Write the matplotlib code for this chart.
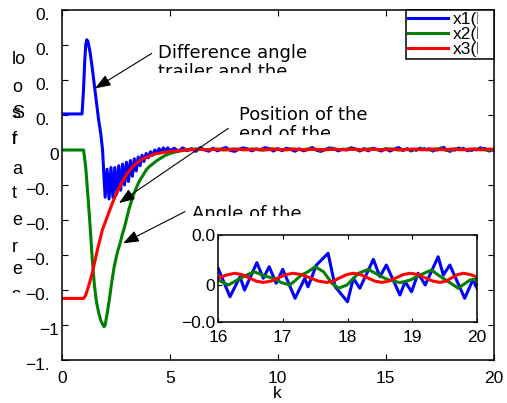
import matplotlib
matplotlib.use("Agg")
import matplotlib.pyplot as plt
from matplotlib.transforms import Bbox, ScaledTranslation

W, H = 507, 403
plt.rcParams['font.family'] = ['Liberation Sans', 'DejaVu Sans']

# ---------------- data ----------------
# transient part, k in [0, 5]
blue_k_a = [0, 0.93, 1.0, 1.05, 1.1, 1.15, 1.2, 1.3, 1.4, 1.5, 1.6, 1.7, 1.8, 1.88, 1.93, 2.0,
            2.09, 2.18, 2.27, 2.36, 2.45, 2.54, 2.63, 2.72, 2.81, 2.90, 2.99, 3.08, 3.17, 3.26,
            3.35, 3.44, 3.53, 3.62, 3.71, 3.80, 3.90, 4.00, 4.10, 4.20, 4.30, 4.40, 4.50, 4.60,
            4.70, 4.80, 4.90, 5.00]
blue_a = [0.206, 0.206, 0.35, 0.50, 0.60, 0.63, 0.62, 0.56, 0.47, 0.37, 0.27, 0.17, 0.09, 0.0, -0.12, -0.27,
          -0.11, -0.28, -0.10, -0.27, -0.10, -0.25, -0.09, -0.23, -0.08, -0.20, -0.07, -0.18, -0.06, -0.15,
          -0.05, -0.12, -0.04, -0.09, -0.03, -0.065, -0.02, -0.045, -0.01, -0.03, 0.0, -0.02, 0.008, -0.012,
          0.012, -0.008, 0.012, -0.004]

green_k_a = [0, 1.0, 1.1, 1.2, 1.3, 1.4, 1.5, 1.6, 1.7, 1.8, 1.9, 1.95, 2.0, 2.1, 2.2, 2.3, 2.4, 2.5,
             2.6, 2.7, 2.8, 2.9, 3.0, 3.1, 3.2, 3.3, 3.4, 3.5, 3.6, 3.7, 3.8, 3.9, 4.0, 4.2, 4.4,
             4.6, 4.8, 5.0, 5.3, 5.6]
green_a = [0, 0, -0.10, -0.26, -0.43, -0.62, -0.77, -0.87, -0.93, -0.975, -1.0, -1.01, -1.0, -0.93,
           -0.85, -0.76, -0.68, -0.62, -0.57, -0.53, -0.48, -0.44, -0.39, -0.34, -0.30, -0.26, -0.23,
           -0.20, -0.175, -0.155, -0.135, -0.115, -0.10, -0.08, -0.06, -0.045, -0.03, -0.02, -0.01, -0.003]

red_k_a = [0, 1.0, 1.1, 1.25, 1.40, 1.64, 1.87, 2.10, 2.33, 2.56, 2.79, 3.03, 3.34, 3.65, 4.0, 4.3,
           4.7, 5.07, 5.69]
red_a = [-0.848, -0.848, -0.83, -0.771, -0.705, -0.571, -0.457, -0.381, -0.305, -0.238, -0.181,
         -0.133, -0.086, -0.057, -0.037, -0.023, -0.014, -0.008, 0.0]

# steady part, k in (5, 16)
blue_k_b = [5.2, 5.4, 5.6, 5.8, 6.0, 6.2, 6.4, 6.6, 6.8, 7.0, 7.2, 7.4, 7.6, 7.8, 8.0, 8.2, 8.4, 8.6,
            8.8, 9.0, 9.2, 9.4, 9.6, 9.8, 10.0, 10.2, 10.4, 10.6, 10.8, 11.0, 11.2, 11.4, 11.6, 11.8,
            12.0, 12.2, 12.4, 12.6, 12.8, 13.0, 13.2, 13.4, 13.6, 13.8, 14.0, 14.2, 14.4, 14.6, 14.8,
            15.0, 15.2, 15.4, 15.6, 15.8]
blue_b = [0.010, -0.006, 0.012, -0.004, 0.008, -0.008, 0.013, 0.002, -0.007, 0.010, -0.005, 0.006,
          0.014, -0.002, -0.008, 0.004, 0.012, 0.006, -0.005, 0.005, 0.001, 0.013, 0.008, -0.006,
          0.008, -0.004, 0.010, 0.003, -0.007, 0.007, -0.005, 0.004, 0.014, -0.002, -0.008, 0.003,
          0.012, 0.008, -0.005, 0.005, 0.0, 0.013, 0.006, -0.006, 0.008, -0.005, 0.010, 0.003,
          -0.006, 0.007, -0.006, 0.005, 0.014, -0.003]

green_k_b = [5.8, 6.2, 6.6, 7.0, 7.5, 7.9, 8.4, 8.8, 9.3, 9.7, 10.2, 10.6, 11.1, 11.5, 12.0, 12.4,
             12.9, 13.3, 13.8, 14.2, 14.7, 15.1, 15.6]
green_b = [0.002, 0.006, 0.001, 0.005, 0.0, 0.006, 0.001, 0.006, -0.001, 0.007, 0.0, 0.006, 0.001,
           0.007, -0.001, 0.006, 0.001, 0.007, 0.0, 0.006, 0.001, 0.007, 0.0]

red_k_b = [5.9, 6.3, 6.8, 7.2, 7.7, 8.1, 8.6, 9.0, 9.5, 9.9, 10.4, 10.8, 11.3, 11.7, 12.2, 12.6,
           13.1, 13.5, 14.0, 14.4, 14.9, 15.3, 15.8]
red_b = [0.0, 0.005, 0.001, 0.005, 0.001, 0.005, 0.001, 0.005, 0.001, 0.005, 0.001, 0.005, 0.001,
         0.005, 0.001, 0.005, 0.001, 0.005, 0.001, 0.005, 0.001, 0.005, 0.001]

# zoomed part, k in [16, 20] (also shown in the inset)
ins_blue_k = [16.0, 16.185, 16.34, 16.41, 16.6, 16.70, 16.79, 16.90, 17.0, 17.19, 17.34, 17.39,
              17.52, 17.70, 17.81, 18.0, 18.09, 18.19, 18.40, 18.50, 18.60, 18.81, 18.89, 18.99,
              19.09, 19.20, 19.40, 19.48, 19.58, 19.81, 19.94, 20.0]
ins_blue = [0.0078, -0.0054, 0.0038, -0.0023, 0.0103, 0.0031, 0.0084, 0.0008, 0.0072, -0.0061,
            0.0031, -0.0008, 0.0092, 0.0146, -0.0008, -0.0077, 0.0031, -0.0015, 0.0118, 0.0038,
            0.0092, -0.0046, 0.0015, -0.0031, 0.0054, 0.0, 0.0130, 0.0046, 0.0092, -0.0061,
            0.0026, -0.0015]
ins_green_k = [16.0, 16.16, 16.37, 16.55, 16.62, 16.73, 16.85, 16.98, 17.11, 17.29, 17.39, 17.50,
               17.63, 17.76, 17.86, 17.99, 18.17, 18.32, 18.48, 18.61, 18.81, 18.97, 19.12, 19.30,
               19.40, 19.56, 19.71, 19.89, 20.0]
ins_green = [0.0023, 0.0, 0.0035, 0.0061, 0.0054, 0.0041, 0.0031, 0.0011, 0.0, 0.0046, 0.0061,
             0.0084, 0.0061, 0.0008, -0.0015, 0.0, 0.0054, 0.0072, 0.0046, 0.0026, 0.0011, 0.0023,
             0.0046, 0.0069, 0.0046, 0.0015, -0.0015, 0.0023, 0.0026]
ins_red_k = [16.00, 16.13, 16.26, 16.37, 16.48, 16.59, 16.70, 16.82, 16.93, 17.05, 17.16, 17.29,
             17.42, 17.55, 17.68, 17.78, 17.88, 17.99, 18.09, 18.20, 18.31, 18.42, 18.53, 18.64,
             18.75, 18.86, 18.97, 19.09, 19.20, 19.32, 19.43, 19.52, 19.61, 19.70, 19.79, 19.90, 20.00]
ins_red = [0.0031, 0.0046, 0.0054, 0.0048, 0.0033, 0.0018, 0.0012, 0.0018, 0.0033, 0.0048, 0.0054,
           0.0048, 0.0033, 0.0018, 0.0012, 0.0018, 0.0033, 0.0048, 0.0054, 0.0048, 0.0033, 0.0018,
           0.0012, 0.0018, 0.0033, 0.0048, 0.0054, 0.0048, 0.0033, 0.0018, 0.0012, 0.0018, 0.0033,
           0.0048, 0.0054, 0.0048, 0.0037]

series_labels = ['x1(k)', 'x2(k)', 'x3(k)']
xticks = [0, 5, 10, 15, 20]
yticks = [0.8, 0.6, 0.4, 0.2, 0, -0.2, -0.4, -0.6, -0.8, -1, -1.2]
ytick_labels = ['0.8', '0.6', '0.4', '0.2', '0', '\u22120.2', '\u22120.4', '\u22120.6', '\u22120.8', '\u22121', '\u22121.2']
ins_xticks = [16, 17, 18, 19, 20]
ins_yticks = [-0.017, 0, 0.023]
ins_ytick_labels = ['\u22120.0', '0', '0.0']

# ---------------- figure ----------------
fig = plt.figure(figsize=(W / 100, H / 100), dpi=100)


def fx(px):
    return px / W


def fy(py):
    return 1 - py / H


def clipbox(x0, y0_top, x1, y1_top):
    # pixel box given with y measured from the top
    return Bbox.from_extents(x0, H - y1_top, x1, H - y0_top)


ax = fig.add_axes([fx(62), fy(360), (493.5 - 62) / W, 350 / H])
LW = 2.2
kb = blue_k_a + blue_k_b + ins_blue_k
vb = blue_a + blue_b + ins_blue
kg = green_k_a + green_k_b + ins_green_k
vg = green_a + green_b + ins_green
kr = red_k_a + red_k_b + ins_red_k
vr = red_a + red_b + ins_red
ax.plot(kb, vb, color=(0, 0, 1), lw=LW, label=series_labels[0])
ax.plot(kg, vg, color=(0, 0.5, 0), lw=LW, label=series_labels[1])
ax.plot(kr, vr, color=(1, 0, 0), lw=LW, label=series_labels[2])
ax.set_xlim(0, 20)
ax.set_ylim(-1.2, 0.8)
ax.set_xticks(xticks)
ax.set_xticklabels([str(v) for v in xticks])
ax.set_yticks(yticks)
ax.set_yticklabels(ytick_labels)
ax.tick_params(direction='in', length=4, width=0.8, top=True, right=True, labelsize=12.5, pad=2)
ax.tick_params(axis='x', pad=8)
for s in ax.spines.values():
    s.set_linewidth(1.1)
ax.set_xlabel('k', fontsize=12.5, labelpad=0)

leg = ax.legend(loc='upper right', borderaxespad=0, fontsize=12.5, labelspacing=0.0,
                borderpad=0.1, handlelength=2.3, handletextpad=0.3, fancybox=False,
                framealpha=1, edgecolor='black')
leg.get_frame().set_linewidth(1.1)

# annotations
tp = dict(fontsize=13, family='DejaVu Sans', color='black')


def ptxt(px, py, s, clip_bottom=None):
    t = fig.text(fx(px), fy(py), s, ha='left', va='baseline', **tp)
    if clip_bottom is not None:
        t.set_clip_box(clipbox(0, 0, W, clip_bottom))
        t.set_clip_on(True)
    return t


ptxt(158, 58, 'Difference angle')
ptxt(158, 77, 'trailer and the', clip_bottom=73)
ptxt(239, 120, 'Position of the')
ptxt(239, 139, 'end of the', clip_bottom=135)
ptxt(192, 219, 'Angle of the', clip_bottom=216)

ap = dict(arrowstyle='-|>,head_length=0.8,head_width=0.3', color='black', lw=0.8,
          shrinkA=0, shrinkB=0, mutation_scale=12)
ax.annotate('', xy=(1.53, 0.352), xytext=(4.16, 0.552), arrowprops=ap)
ax.annotate('', xy=(2.64, -0.303), xytext=(7.71, 0.124), arrowprops=ap)
ax.annotate('', xy=(2.83, -0.533), xytext=(5.70, -0.352), arrowprops=ap)

# garbled vertical y-label
ylab_chars = [('lo', 60), ('o', 87), ('s', 113), ('S', 113), ('f', 139), ('r', 139), ('a', 169),
              ('t', 194), ('e', 221), ('r', 247), ('e', 270)]
for ch, py in ylab_chars:
    fig.text(fx(12), fy(py), ch, ha='left', va='center', fontsize=13)
t = fig.text(fx(12), fy(296), 's', ha='left', va='center', fontsize=13)
t.set_clip_box(clipbox(0, 0, W, 293))
t.set_clip_on(True)

# inset
axi = fig.add_axes([fx(218), fy(322), (477 - 218) / W, (322 - 235) / H])
axi.plot(ins_blue_k, ins_blue, color=(0, 0, 1), lw=LW)
axi.plot(ins_green_k, ins_green, color=(0, 0.5, 0), lw=LW)
axi.plot(ins_red_k, ins_red, color=(1, 0, 0), lw=LW)
axi.set_xlim(16, 20)
axi.set_ylim(-0.017, 0.023)
axi.set_xticks(ins_xticks)
axi.set_xticklabels([str(v) for v in ins_xticks])
axi.set_yticks(ins_yticks)
axi.set_yticklabels(ins_ytick_labels)
axi.tick_params(direction='in', length=3, width=0.8, top=True, right=True, labelsize=12.5, pad=2)
axi.tick_params(axis='x', pad=6)
for s in axi.spines.values():
    s.set_linewidth(1.1)

fig.canvas.draw()
# main y tick labels sit a little below their ticks and are clipped like in the reference
off = ScaledTranslation(0, -0.04, fig.dpi_scale_trans)
for lab, val in zip(ax.get_yticklabels(), yticks):
    lab.set_transform(lab.get_transform() + off)
    if val not in (0, -1):
        lab.set_clip_box(clipbox(0, 0, 48, H))
        lab.set_clip_on(True)
# legend labels clipped by the frame / axes edge
for txt in leg.get_texts():
    txt.set_clip_box(clipbox(0, 10, 478, 72))
    txt.set_clip_on(True)

fig.savefig('out.png', dpi=100)
